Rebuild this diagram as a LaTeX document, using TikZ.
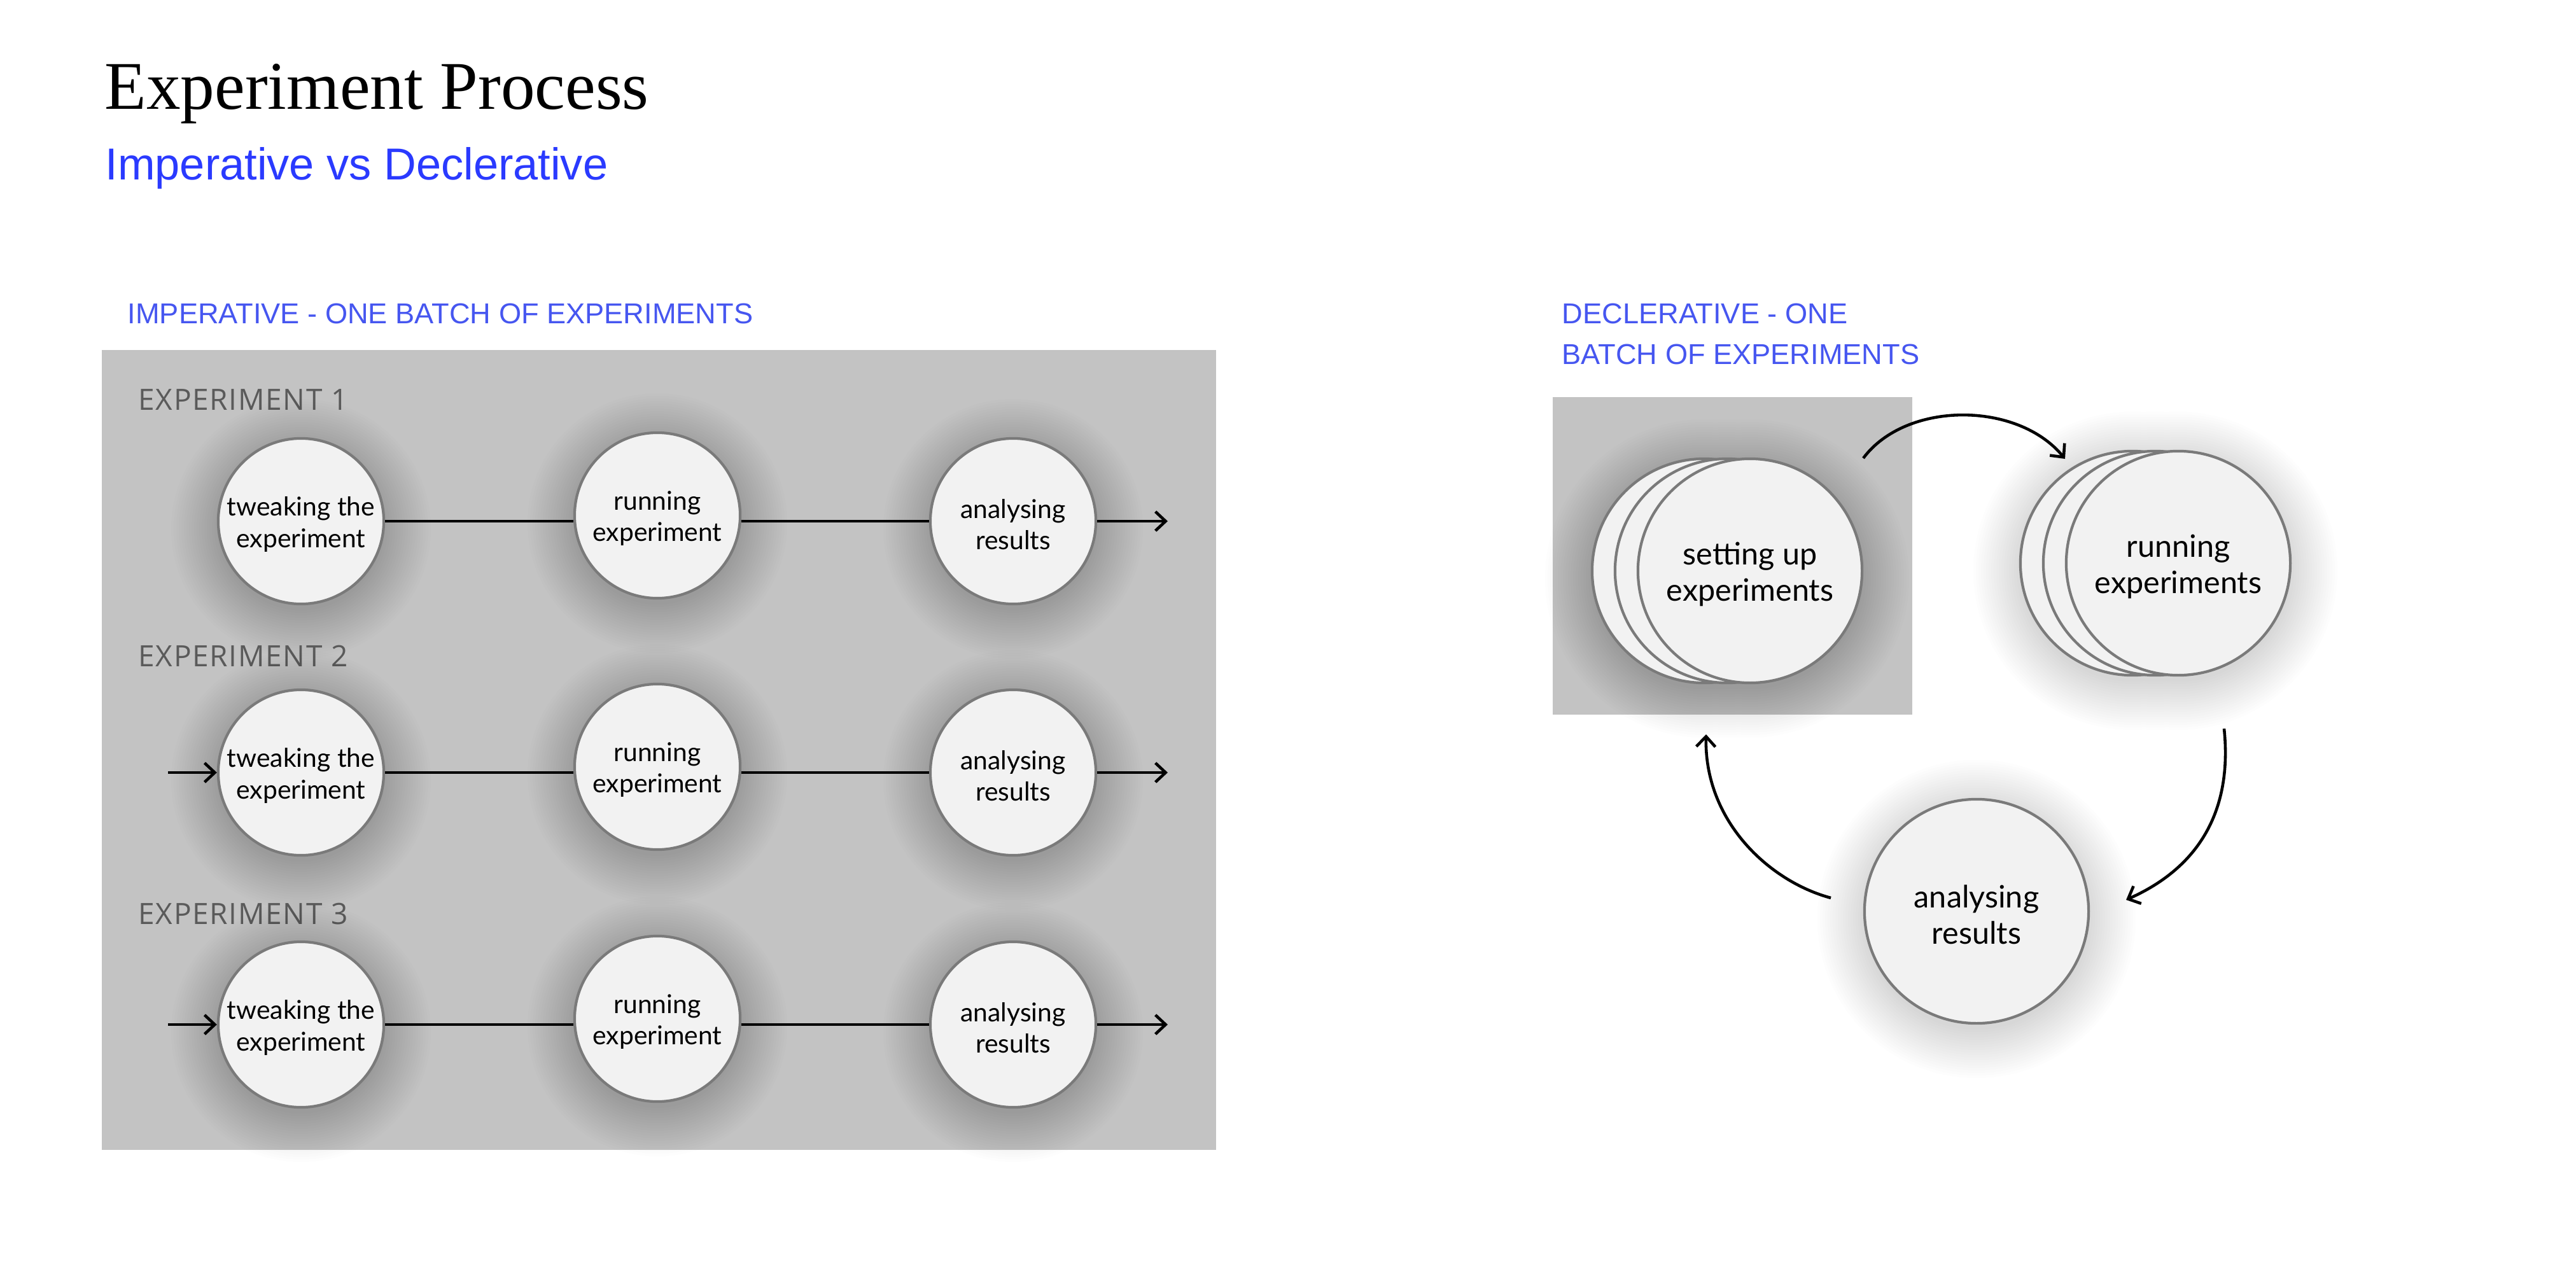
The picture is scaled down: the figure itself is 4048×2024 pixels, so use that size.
\documentclass[tikz,border=0pt]{standalone}
\usepackage{fontspec}
\setmainfont{Lato}
\newfontfamily\titlefont{Liberation Serif}
\newfontfamily\sansfont{Liberation Sans}
\newfontfamily\expfont[LetterSpace=3.5]{Open Sans}
\usetikzlibrary{arrows.meta}
\definecolor{subblue}{RGB}{42,58,255}
\definecolor{labblue}{RGB}{70,86,240}
\definecolor{panel}{RGB}{195,195,195}
\definecolor{cfill}{RGB}{242,242,242}
\definecolor{cline}{RGB}{122,122,122}
\definecolor{explab}{RGB}{90,90,90}
% soft shadow: x y r dx (three circles, x, x-dx, x-2dx), full-px units
\newcommand\softshadow[4]{%
  \foreach \k in {1,...,20}{%
    \fill[black,opacity=0.0075]
      (#1,#2+12) circle[radius={(#3-6+4*\k)*0.284528pt}]
      (#1-#4,#2+12) circle[radius={(#3-6+4*\k)*0.284528pt}]
      (#1-2*#4,#2+12) circle[radius={(#3-6+4*\k)*0.284528pt}];}}
\tikzset{
  circ/.style={circle, draw=cline, line width=1.2pt, fill=cfill, minimum size=2.6cm,
    inner sep=0pt},
  bigcirc/.style={circ, minimum size=3.52cm},
  ctext/.style={align=center, inner sep=0pt, font=\fontsize{11.6}{14}\selectfont, yshift=-1.4pt},
  btext/.style={align=center, inner sep=0pt, font=\fontsize{13.8}{16.3}\selectfont, yshift=-1.6pt},
  conn/.style={line width=1.3pt, black},
  arr/.style={conn, -{Straight Barb[length=0.16cm,width=0.3cm]}},
  explabel/.style={anchor=base west, inner sep=0pt, text=explab,
    font=\expfont\fontsize{13.1}{15}\selectfont},
  seclabel/.style={anchor=base west, inner sep=0pt, text=labblue,
    font=\sansfont\fontsize{12.85}{15}\selectfont},
}
\begin{document}
\begin{tikzpicture}[x=0.01cm,y=-0.01cm]
\useasboundingbox (0,0) rectangle (4048,2024);
\fill[white] (0,0) rectangle (4048,2024);

% headings
\node[anchor=base west, inner sep=0pt, font=\titlefont\fontsize{30.5}{36}\selectfont] (title) at (164,171) {Experiment Process};
\node[anchor=base west, inner sep=0pt, text=subblue, font=\sansfont\fontsize{20}{24}\selectfont] (sub) at (165,282) {Imperative vs Declerative};
\node[seclabel] (implab) at (200,508) {IMPERATIVE - ONE BATCH OF EXPERIMENTS};
\node[seclabel] (declab1) at (2454,508) {DECLERATIVE - ONE};
\node[seclabel] (declab2) at (2454,572) {BATCH OF EXPERIMENTS};

% left panel
\fill[panel] (160,550) rectangle (1911,1807);
\foreach \r/\y/\b in {1/819/644, 2/1214/1047, 3/1610/1452}{
  \node[explabel] (exp\r) at (217,\b) {EXPERIMENT \r};
  \softshadow{473}{\y}{130}{0}
  \softshadow{1033}{\y-9}{130}{0}
  \softshadow{1592}{\y}{130}{0}
  \node[circ, label={[ctext]center:tweaking the\\experiment}] (tw\r) at (473,\y) {};
  \node[circ, label={[ctext]center:running\\experiment}] (run\r) at (1033,\y-9) {};
  \node[circ, label={[ctext]center:analysing\\results}] (an\r) at (1592,\y) {};
  \draw[conn] (tw\r.east) -- (tw\r.east -| run\r.west);
  \draw[conn] (an\r.west -| run\r.east) -- (an\r.west);
  \coordinate (out\r) at (1835,\y);
  \draw[arr] (an\r.east) -- (out\r);
}
\coordinate (in2) at (264,1214);
\coordinate (in3) at (264,1610);
\draw[arr] (in2) -- (tw2.west);
\draw[arr] (in3) -- (tw3.west);

% right side
\fill[panel] (2440,624) rectangle (3005,1123);
\softshadow{2750}{897}{176}{36}
\softshadow{3423}{885}{176}{36}
\softshadow{3106}{1432}{176}{0}
\node[bigcirc] (setc) at (2678,897) {};
\node[bigcirc] (setb) at (2714,897) {};
\node[bigcirc, label={[btext]center:setting up\\experiments}] (set) at (2750,897) {};
\node[bigcirc] (runc) at (3351,885) {};
\node[bigcirc] (runb) at (3387,885) {};
\node[bigcirc, label={[btext]center:running\\experiments}] (run) at (3423,885) {};
\node[bigcirc, label={[btext]center:analysing\\results}] (ana) at (3106,1432) {};

\coordinate (a1s) at (2928,720);
\coordinate (a1e) at (3245,721);
\draw[arr] (a1s) .. controls (2995,630) and (3170,630) .. (a1e);
\coordinate (a2s) at (3495,1145);
\coordinate (a2e) at (3341,1414);
\draw[arr] (a2s) .. controls (3510,1290) and (3440,1370) .. (a2e);
\coordinate (a3s) at (2877,1411);
\coordinate (a3e) at (2681,1154);
\draw[arr] (a3s) .. controls (2780,1385) and (2678,1290) .. (a3e);
\end{tikzpicture}
\end{document}
